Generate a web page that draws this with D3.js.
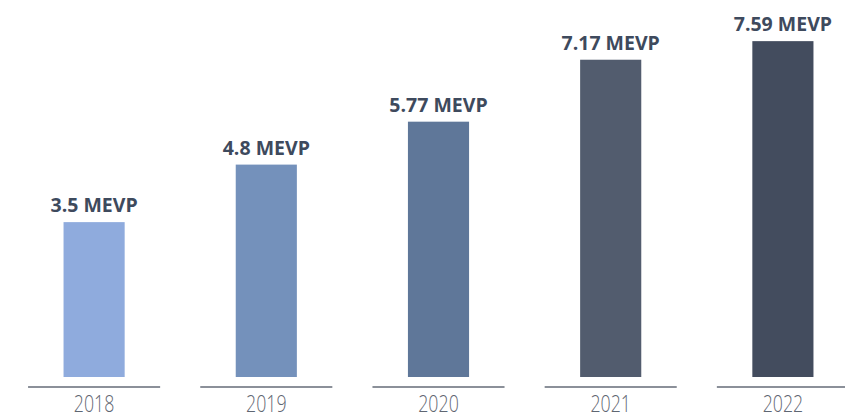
<!DOCTYPE html>
<html>
<head>
<meta charset="utf-8">
<script src="https://cdn.jsdelivr.net/npm/d3@7"></script>
<style>
  body { margin: 0; background: #fff; }
  svg { display: block; }
  .bar-label { font-family: "Open Sans", sans-serif; font-weight: 700; font-size: 19.5px; fill: #3e4a5d; }
  .year-label { font-family: "Open Sans", sans-serif; font-weight: 300; font-size: 24px; fill: #5f6672; }
</style>
</head>
<body>
<script>
const years = ["2018", "2019", "2020", "2021", "2022"];
const values = [3.5, 4.8, 5.77, 7.17, 7.59];
const colors = ["#8fabdd", "#7491bb", "#5f7799", "#525c6e", "#434c5e"];

const width = 845, height = 414;
const baseY = 377;

const svg = d3.select("body").append("svg")
    .attr("width", width)
    .attr("height", height);

const x = d3.scaleBand().domain(years).range([8, 869]);
const y = d3.scaleLinear().domain([0, 8]).range([baseY, 23]);

const barW = x.bandwidth() * 0.355,
      lineW = x.bandwidth() * 0.767;

const data = years.map((yr, i) => ({year: yr, value: values[i], color: colors[i]}));

const g = svg.selectAll(".col")
  .data(data)
  .enter().append("g")
  .attr("class", "col")
  .attr("transform", d => "translate(" + (x(d.year) + x.bandwidth() / 2) + ",0)");

g.append("rect")
  .attr("x", -barW / 2)
  .attr("width", barW)
  .attr("y", d => y(d.value))
  .attr("height", d => baseY - y(d.value))
  .attr("fill", d => d.color);

g.append("text")
  .attr("class", "bar-label")
  .attr("text-anchor", "middle")
  .attr("y", d => y(d.value) - 10)
  .text(d => d.value + " MEVP");

// little baseline under each bar
g.append("line")
  .attr("x1", -lineW / 2)
  .attr("x2", lineW / 2)
  .attr("y1", 387)
  .attr("y2", 387)
  .attr("stroke", "#646b77")
  .attr("stroke-width", 1.5);

// year labels are narrow in the original, squeeze them a bit
g.append("text")
  .attr("class", "year-label")
  .attr("text-anchor", "middle")
  .attr("transform", "translate(0,412) scale(0.74,1)")
  .text(d => d.year);
</script>
</body>
</html>
